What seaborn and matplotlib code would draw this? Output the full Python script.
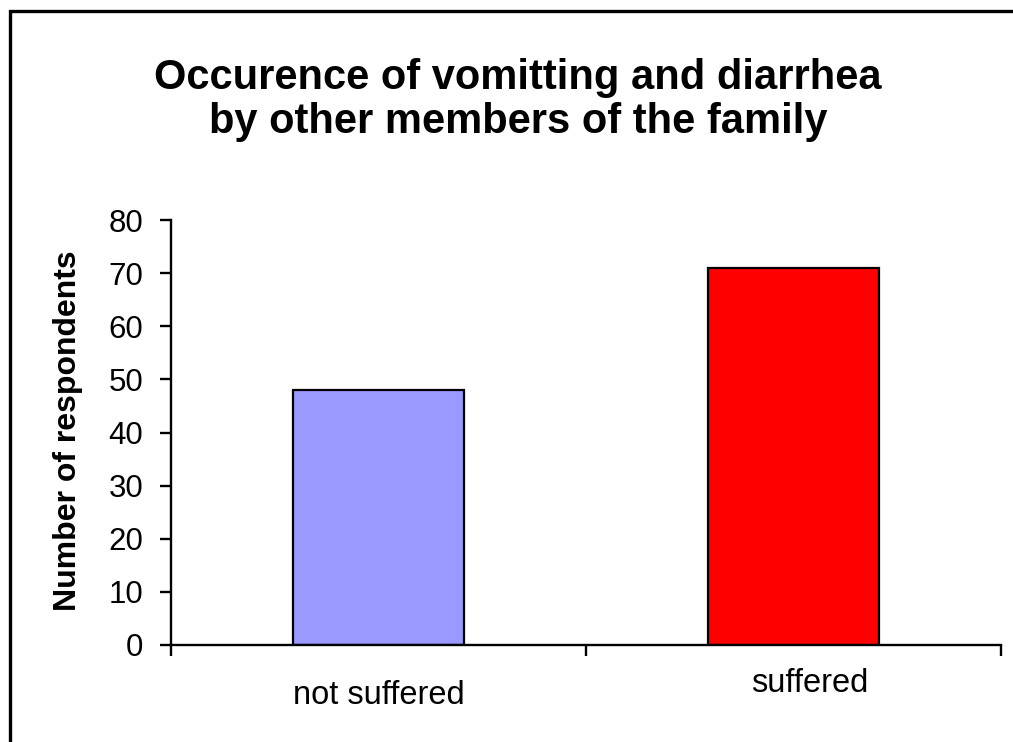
import matplotlib
matplotlib.use("Agg")
import matplotlib.pyplot as plt
import seaborn as sns
import pandas as pd
from matplotlib.patches import Rectangle
from matplotlib.transforms import offset_copy

categories = ["not suffered", "suffered"]
values = [48, 71]
colors = ["#9999FF", "#FF0000"]
yticks = [0, 10, 20, 30, 40, 50, 60, 70, 80]
title = "Occurence of vomitting and diarrhea\nby other members of the family"
ylabel = "Number of respondents"

sns.set_style("ticks")
plt.rcParams["font.family"] = ["Liberation Sans", "DejaVu Sans"]
plt.rcParams["text.color"] = "black"
plt.rcParams["axes.labelcolor"] = "black"
plt.rcParams["xtick.color"] = "black"
plt.rcParams["ytick.color"] = "black"

W, H = 1013, 742
fig = plt.figure(figsize=(W / 100, H / 100), dpi=100)
ax = fig.add_axes([171 / W, 1 - 645 / H, 830 / W, 425 / H])

df = pd.DataFrame({"category": categories, "value": values})
sns.barplot(data=df, x="category", y="value", hue="category",
            palette=colors, width=0.41, edgecolor="black", linewidth=1.6,
            legend=False, ax=ax, saturation=1)

ax.set_xlim(-0.5, len(categories) - 0.5)
ax.set_ylim(0, 80)
ax.set_yticks(yticks)
ax.set_xticks([i - 0.5 for i in range(len(categories) + 1)])
ax.set_xticklabels([])
ax.set_xlabel("")
ax.set_ylabel("")
for s in ["top", "right"]:
    ax.spines[s].set_visible(False)
for s in ["left", "bottom"]:
    ax.spines[s].set_linewidth(1.7)
    ax.spines[s].set_color("black")
ax.tick_params(axis="y", direction="out", length=8, width=1.7, labelsize=22.5,
               pad=12, colors="black")
ax.tick_params(axis="x", direction="out", length=8, width=1.7, colors="black")

# category labels (staggered as in the reference)
offsets = [(0, -50), (16, -39)]
for i, (cat, (dx, dy)) in enumerate(zip(categories, offsets)):
    tr = offset_copy(ax.get_xaxis_transform(), fig=fig, x=dx, y=dy, units="dots")
    ax.text(i, 0, cat, transform=tr, ha="center", va="center", fontsize=23.5,
            color="black")

fig.text(518 / W, 1 - 100 / H, title, ha="center", va="center", fontsize=30,
         fontweight="bold", linespacing=1.1, color="black")
fig.text(68 / W, 1 - 431 / H, ylabel, ha="center", va="center", rotation=90,
         fontsize=23, fontweight="bold", color="black")

fig.patches.append(Rectangle((9.5 / W, -0.05), 1.2, 1 - 10.5 / H + 0.05,
                             transform=fig.transFigure, fill=False,
                             edgecolor="black", linewidth=2.4))

fig.savefig("out.png", dpi=100)
